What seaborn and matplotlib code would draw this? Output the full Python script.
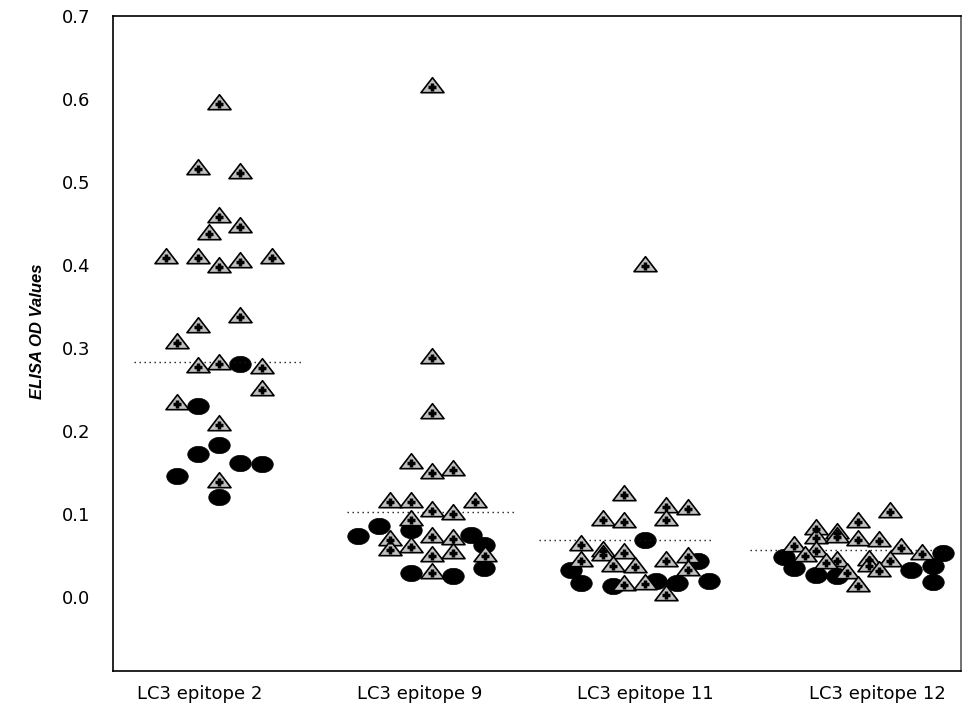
import numpy as np
import pandas as pd
import matplotlib
matplotlib.use("Agg")
import matplotlib.pyplot as plt
import matplotlib.transforms as mtrans
from matplotlib.markers import MarkerStyle
from matplotlib.path import Path
import seaborn as sns

# ---------------- data ----------------
categories = ["LC3 epitope 2", "LC3 epitope 9", "LC3 epitope 11", "LC3 epitope 12"]
yticks = [0.0, 0.1, 0.2, 0.3, 0.4, 0.5, 0.6, 0.7]

# triangles (group A): values and horizontal jitter (category units)
tri_e2_y = [0.594, 0.516, 0.511, 0.458, 0.446, 0.438, 0.408, 0.408, 0.398, 0.404, 0.408,
            0.338, 0.325, 0.306, 0.277, 0.281, 0.276, 0.249, 0.233, 0.207, 0.139]
tri_e2_dx = [0, -0.1, 0.1, 0, 0.1, -0.05, -0.25, -0.1, 0, 0.1, 0.25,
             0.1, -0.1, -0.2, -0.1, 0, 0.2, 0.2, -0.2, 0, 0]
tri_e9_y = [0.614, 0.288, 0.222, 0.162, 0.150, 0.153, 0.114, 0.115, 0.114, 0.104, 0.100,
            0.093, 0.073, 0.070, 0.069, 0.057, 0.060, 0.049, 0.053, 0.049, 0.029]
tri_e9_dx = [0, 0, 0, -0.1, 0, 0.1, -0.2, -0.1, 0.2, 0, 0.1,
             -0.1, 0, 0.1, -0.2, -0.2, -0.1, 0, 0.1, 0.25, 0]
tri_e11_y = [0.399, 0.123, 0.109, 0.106, 0.093, 0.090, 0.093, 0.063, 0.055, 0.051, 0.053,
             0.043, 0.037, 0.036, 0.043, 0.048, 0.033, 0.014, 0.016, 0.003]
tri_e11_dx = [0, -0.1, 0.1, 0.2, -0.2, -0.1, 0.1, -0.3, -0.2, -0.2, -0.1,
              -0.3, -0.15, -0.05, 0.1, 0.2, 0.2, -0.1, 0, 0.1]
tri_e12_y = [0.103, 0.090, 0.082, 0.077, 0.071, 0.072, 0.069, 0.068, 0.061, 0.055, 0.059,
             0.052, 0.049, 0.044, 0.041, 0.045, 0.043, 0.037, 0.032, 0.029, 0.013]
tri_e12_dx = [0.15, 0, -0.2, -0.1, -0.2, -0.1, 0, 0.1, -0.3, -0.2, 0.2,
              0.3, -0.25, -0.1, -0.15, 0.05, 0.15, 0.05, 0.1, -0.05, 0]

# ellipses (group B)
ell_e2_y = [0.281, 0.230, 0.183, 0.172, 0.162, 0.160, 0.146, 0.121]
ell_e2_dx = [0.1, -0.1, 0, -0.1, 0.1, 0.2, -0.2, 0]
ell_e9_y = [0.074, 0.086, 0.081, 0.075, 0.063, 0.035, 0.029, 0.025]
ell_e9_dx = [-0.35, -0.25, -0.1, 0.18, 0.245, 0.245, -0.1, 0.1]
ell_e11_y = [0.033, 0.017, 0.013, 0.069, 0.020, 0.017, 0.043, 0.020]
ell_e11_dx = [-0.35, -0.3, -0.15, 0, 0.05, 0.15, 0.25, 0.3]
ell_e12_y = [0.048, 0.035, 0.027, 0.025, 0.033, 0.037, 0.053, 0.018]
ell_e12_dx = [-0.35, -0.3, -0.2, -0.1, 0.25, 0.35, 0.4, 0.35]

# group means (dotted lines)
mean_values = [0.283, 0.102, 0.069, 0.057]

# ---------------- build tables ----------------
tri_y = [tri_e2_y, tri_e9_y, tri_e11_y, tri_e12_y]
tri_dx = [tri_e2_dx, tri_e9_dx, tri_e11_dx, tri_e12_dx]
ell_y = [ell_e2_y, ell_e9_y, ell_e11_y, ell_e12_y]
ell_dx = [ell_e2_dx, ell_e9_dx, ell_e11_dx, ell_e12_dx]

def make_df(ys, dxs):
    rows = []
    for i, (yy, dd) in enumerate(zip(ys, dxs)):
        for v, d in zip(yy, dd):
            rows.append({"x": i + d, "value": v, "category": categories[i]})
    return pd.DataFrame(rows)

tri_df = make_df(tri_y, tri_dx)
ell_df = make_df(ell_y, ell_dx)

# ---------------- style ----------------
sns.set_style("white")
plt.rcParams["font.family"] = ["DejaVu Sans"]
plt.rcParams["text.color"] = "black"
plt.rcParams["axes.labelcolor"] = "black"
plt.rcParams["xtick.color"] = "black"
plt.rcParams["ytick.color"] = "black"

fig = plt.figure(figsize=(9.64, 7.05), dpi=100)
ax = fig.add_axes([112.7 / 964, 1 - 671 / 705, (961 - 112.7) / 964, (671 - 16) / 705])

tri_marker = MarkerStyle(Path([(-1, -0.45), (1, -0.45), (0, 0.85), (-1, -0.45)], closed=True))
t = np.linspace(0, 2 * np.pi, 80)
ell_marker = MarkerStyle(Path(np.column_stack([np.cos(t), 0.76 * np.sin(t)]), closed=True))

sns.scatterplot(data=ell_df, x="x", y="value", ax=ax, marker=ell_marker, s=240,
                color="black", edgecolor="black", linewidth=0.5, zorder=2, legend=False)

# mean dotted lines
line_half = [(-0.40, 0.40), (-0.40, 0.39), (-0.50, 0.32), (-0.51, 0.43)]
for i, m in enumerate(mean_values):
    ax.hlines(m, i + line_half[i][0], i + line_half[i][1], colors="0.1",
              linestyles=(0, (1, 2.6)), linewidth=1.0, zorder=3)

sns.scatterplot(data=tri_df, x="x", y="value", ax=ax, marker=tri_marker, s=275,
                color="#c0c0c0", edgecolor="black", linewidth=1.2, zorder=4, legend=False)
sns.scatterplot(data=tri_df, x="x", y="value", ax=ax, marker="+", s=38,
                color="black", linewidth=2.5, zorder=5, legend=False)

# ---------------- axes ----------------
ax.set_xlim(-0.5, 3.483)
ax.set_ylim(-0.089, 0.7)
ax.set_xticks(range(len(categories)))
ax.set_xticklabels(categories, fontsize=13, color="black")
ax.set_yticks(yticks)
ax.set_yticklabels([f"{v:.1f}" for v in yticks], fontsize=13, color="black")
ax.tick_params(axis="both", direction="out", length=6, width=1.1, color="black",
               labelcolor="black")
ax.tick_params(axis="y", pad=10)
ax.tick_params(axis="x", pad=4)
ax.set_xlabel("")
ax.set_ylabel("ELISA OD Values", fontsize=12, fontweight="bold", fontstyle="italic",
              color="black",
              family=["Liberation Sans Narrow", "Liberation Sans", "DejaVu Sans"])
ax.yaxis.set_label_coords(-0.0798, 0.519)

for sp in ax.spines.values():
    sp.set_visible(True)
    sp.set_color("black")
    sp.set_linewidth(1.2)
ax.spines["right"].set_color("0.35")

# shift x tick labels like the reference
offsets_px = [-20, -12, 0, 19]
for lab, dx in zip(ax.get_xticklabels(), offsets_px):
    lab.set_transform(lab.get_transform() + mtrans.ScaledTranslation(dx / 100, 0, fig.dpi_scale_trans))

fig.savefig("out.png", dpi=100)
